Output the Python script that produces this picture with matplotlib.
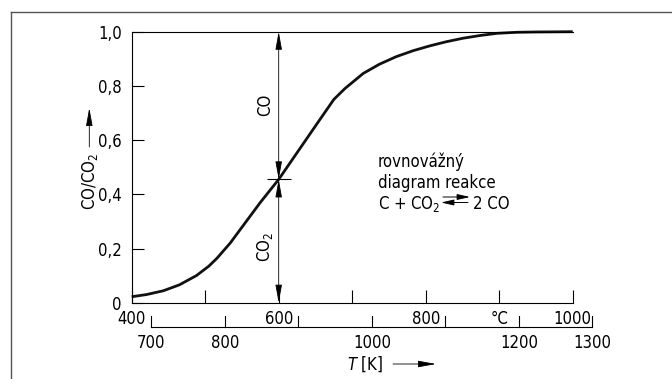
import matplotlib
matplotlib.use('Agg')
import matplotlib.pyplot as plt
from matplotlib.lines import Line2D
from matplotlib.patches import FancyArrowPatch
from matplotlib.transforms import blended_transform_factory

plt.rcParams['font.family'] = ['DejaVu Sans']
plt.rcParams['font.stretch'] = 'condensed'
plt.rcParams['mathtext.fontset'] = 'custom'
plt.rcParams['mathtext.rm'] = 'DejaVu Sans:stretch=condensed'
plt.rcParams['mathtext.it'] = 'DejaVu Sans:italic:stretch=condensed'

# data: temperature in deg C, CO fraction
temp_c = [400, 420, 443, 465, 488, 505, 516, 534, 575, 600, 652, 675, 690, 715, 737, 760, 783,
          806, 828, 851, 874, 897, 925, 950, 1000]
co_frac = [0.022, 0.03, 0.044, 0.066, 0.10, 0.135, 0.164, 0.22, 0.37, 0.455, 0.66, 0.75, 0.79,
           0.846, 0.88, 0.908, 0.93, 0.948, 0.963, 0.976, 0.986, 0.994, 0.998, 0.999, 1.0]

c_ticks = [400, 500, 600, 700, 800, 900, 1000]
c_labels = ['400', '', '600', '', '800', '°C', '1000']
y_ticks = [0, 0.2, 0.4, 0.6, 0.8, 1.0]
y_labels = ['0', '0,2', '0,4', '0,6', '0,8', '1,0']
k_ticks = [700, 800, 900, 1000, 1100, 1200, 1300]
k_labels = ['700', '800', '', '1000', '', '1200', '1300']

mark_t = 600      # dimension line position
mark_co = 0.455

W, H = 672, 379
FS = 12
fig = plt.figure(figsize=(W / 100, H / 100), dpi=100)


def fpx(x, y):
    # pixel position (from top left) -> figure fraction
    return (x / W, 1 - y / H)


ax = fig.add_axes([131.7 / W, (H - 302.7) / H, 441 / W, 271 / H])
ax.plot(temp_c, co_frac, color='#111111', lw=2.0, solid_capstyle='butt', clip_on=False)
ax.set_xlim(400, 1000)
ax.set_ylim(0, 1)

for s in ['left', 'bottom', 'top']:
    ax.spines[s].set_linewidth(0.8)
ax.spines['right'].set_visible(False)

ax.set_xticks(c_ticks, c_labels)
ax.set_yticks(y_ticks, y_labels)
ax.tick_params(axis='x', direction='in', length=9.4, width=0.8, pad=5.5, labelsize=FS)
ax.tick_params(axis='y', direction='in', length=8.6, width=0.8, pad=7, labelsize=FS)

# dimension line with arrows at 600 deg C
arw = dict(arrowstyle='<|-|>,head_length=1.1,head_width=0.2', color='black', lw=0.6,
           shrinkA=0, shrinkB=0, mutation_scale=10)
ax.annotate('', xy=(mark_t, 1.0), xytext=(mark_t, mark_co), arrowprops=arw, annotation_clip=False)
ax.annotate('', xy=(mark_t, mark_co), xytext=(mark_t, 0), arrowprops=arw, annotation_clip=False)
ax.plot([mark_t], [mark_co], marker='_', ms=17, mew=0.8, color='black', clip_on=False)
ax.text(mark_t - 19, 0.73, 'CO', rotation=90, fontsize=FS, ha='center', va='center')
ax.text(mark_t - 19, 0.205, 'CO$_2$', rotation=90, fontsize=FS, ha='center', va='center')

# second scale in kelvin below the axis
tr = blended_transform_factory(ax.transData, ax.transAxes)
k_in_c = [k - 273.15 for k in k_ticks]
ax.plot([k_in_c[0], k_in_c[-1]], [-0.0908, -0.0908], color='black', lw=0.8, transform=tr, clip_on=False)
for xc, lab in zip(k_in_c, k_labels):
    ax.plot([xc, xc], [-0.0908, -0.049], color='black', lw=0.8, transform=tr, clip_on=False)
    if lab:
        ax.text(xc, -0.147, lab, fontsize=FS, ha='center', va='center', transform=tr)

head = dict(arrowstyle='-|>,head_length=1.1,head_width=0.2', color='black', lw=0.6,
            shrinkA=0, shrinkB=0, mutation_scale=10)
small = dict(arrowstyle='-|>,head_length=1.1,head_width=0.25', color='black', lw=0.7,
             shrinkA=0, shrinkB=0, mutation_scale=7)

fig.text(*fpx(365, 364), '$T$ [K]', fontsize=FS, ha='center', va='center')
fig.add_artist(FancyArrowPatch(fpx(393, 364), fpx(436, 364), transform=fig.transFigure, **head))

# y label
fig.text(*fpx(90, 181), 'CO/CO$_2$', fontsize=FS, rotation=90, ha='center', va='center')
fig.add_artist(FancyArrowPatch(fpx(89.3, 147), fpx(89.3, 108), transform=fig.transFigure, **head))

# reaction note
fig.text(*fpx(378, 166.7), 'rovnovážný', fontsize=FS, ha='left', va='baseline')
fig.text(*fpx(378, 188.3), 'diagram reakce', fontsize=FS, ha='left', va='baseline')
fig.text(*fpx(378, 208.5), 'C + CO$_2$', fontsize=FS, ha='left', va='baseline')
fig.add_artist(FancyArrowPatch(fpx(443, 197), fpx(470, 197), transform=fig.transFigure, **small))
fig.add_artist(FancyArrowPatch(fpx(468, 202.5), fpx(441, 202.5), transform=fig.transFigure, **small))
fig.text(*fpx(473, 208.5), '2 CO', fontsize=FS, ha='left', va='baseline')

# outer frame (top and left edges)
fig.add_artist(Line2D([10.7 / W, 1], [1 - 11.7 / H, 1 - 11.7 / H], color='#555555', lw=1.0,
                      transform=fig.transFigure))
fig.add_artist(Line2D([10.7 / W, 10.7 / W], [0, 1 - 11.7 / H], color='#555555', lw=1.0,
                      transform=fig.transFigure))

fig.savefig('out.png', dpi=100)
